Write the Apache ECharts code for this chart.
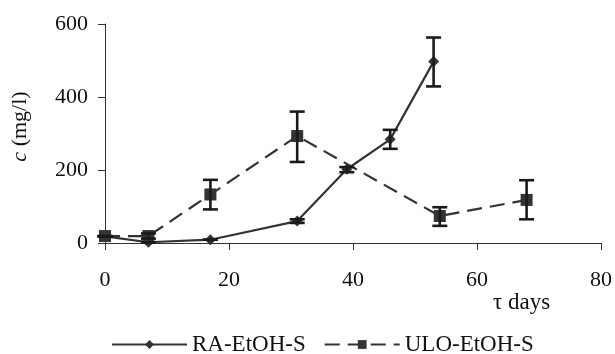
<!DOCTYPE html>
<html>
<head>
<meta charset="utf-8">
<script src="https://cdn.jsdelivr.net/npm/echarts@6/dist/echarts.min.js"></script>
<style>
  html, body { margin: 0; padding: 0; background: #fff; }
  #chart { width: 615px; height: 354px; }
</style>
</head>
<body>
<div id="chart"></div>
<script>
// RA-EtOH-S (diamonds, solid line)
var raDays = [0, 7, 17, 31, 39, 46, 53];
var raValues = [18, 2, 9, 60, 202, 284, 497];
var raLow = [18, 2, 9, 55, 194, 258, 429];
var raHigh = [18, 2, 9, 65, 208, 310, 563];

// ULO-EtOH-S (squares, dashed line)
var uloDays = [0, 7, 17, 31, 54, 68];
var uloValues = [19, 19, 133, 293, 74, 118];
var uloLow = [19, 12, 92, 222, 47, 65];
var uloHigh = [19, 26, 173, 360, 98, 172];

var xTicks = [0, 20, 40, 60, 80];
var yTicks = [0, 200, 400, 600];

var font = "Liberation Serif";
var fs = 22;
var ink = "#333333";

function pairs(xs, ys) {
  return xs.map(function (x, i) { return [x, ys[i]]; });
}

function errRows(xs, lo, hi) {
  return xs.map(function (x, i) { return [x, lo[i], hi[i]]; });
}

// vertical error bar with caps, drawn through the axis scales
function errorBars(params, api) {
  var top = api.coord([api.value(0), api.value(2)]);
  var bot = api.coord([api.value(0), api.value(1)]);
  var half = 7.5;
  var style = { stroke: "#1a1a1a", lineWidth: 2.6, fill: null };
  return {
    type: "group",
    children: [
      { type: "line", shape: { x1: top[0], y1: top[1], x2: bot[0], y2: bot[1] }, style: style },
      { type: "line", shape: { x1: top[0] - half, y1: top[1], x2: top[0] + half, y2: top[1] }, style: style },
      { type: "line", shape: { x1: bot[0] - half, y1: bot[1], x2: bot[0] + half, y2: bot[1] }, style: style }
    ]
  };
}

var chart = echarts.init(document.getElementById("chart"));

var option = {
  animation: false,
  textStyle: { fontFamily: font },
  grid: { left: 105, right: 13, top: 24, bottom: 111 },
  legend: {
    data: ["RA-EtOH-S", "ULO-EtOH-S"],
    top: 328,
    left: 106,
    itemWidth: 75,
    itemHeight: 11,
    itemGap: 18,
    textStyle: { fontFamily: font, fontSize: 23, color: "#111" }
  },
  graphic: [
    {
      type: "text",
      left: 493,
      top: 291,
      style: { text: "τ days", font: "23px " + font, fill: "#111" }
    }
  ],
  xAxis: {
    type: "value",
    min: xTicks[0],
    max: xTicks[xTicks.length - 1],
    interval: 20,
    axisLine: { lineStyle: { color: ink, width: 1 } },
    axisTick: { show: true, length: 7, lineStyle: { color: ink } },
    axisLabel: { fontFamily: font, fontSize: fs, color: "#111", margin: 26 },
    splitLine: { show: false }
  },
  yAxis: {
    type: "value",
    min: yTicks[0],
    max: yTicks[yTicks.length - 1],
    interval: 200,
    name: "{i|c} (mg/l)",
    nameLocation: "middle",
    nameRotate: 90,
    nameGap: 74,
    nameTextStyle: {
      fontFamily: font,
      fontSize: fs,
      color: "#111",
      padding: [0, 0, 0, 14],
      rich: {
        i: { fontFamily: font, fontSize: fs, fontStyle: "italic", color: "#111" }
      }
    },
    axisLine: { show: true, lineStyle: { color: ink, width: 1 } },
    axisTick: { show: true, length: 7, lineStyle: { color: ink } },
    axisLabel: { fontFamily: font, fontSize: fs, color: "#111", margin: 17 },
    splitLine: { show: false }
  },
  series: [
    {
      name: "RA-EtOH-S",
      type: "line",
      data: pairs(raDays, raValues),
      symbol: "diamond",
      symbolSize: 11,
      lineStyle: { color: ink, width: 2.2 },
      itemStyle: { color: ink },
      z: 3
    },
    {
      name: "ULO-EtOH-S",
      type: "line",
      data: pairs(uloDays, uloValues),
      symbol: "rect",
      symbolSize: 12,
      lineStyle: { color: ink, width: 2.2, type: [15, 8] },
      itemStyle: { color: ink },
      z: 3
    },
    {
      name: "raErr",
      type: "custom",
      renderItem: errorBars,
      data: errRows(raDays, raLow, raHigh),
      encode: { x: 0, y: [1, 2] },
      z: 4
    },
    {
      name: "uloErr",
      type: "custom",
      renderItem: errorBars,
      data: errRows(uloDays, uloLow, uloHigh),
      encode: { x: 0, y: [1, 2] },
      z: 4
    }
  ]
};

chart.setOption(option);
</script>
</body>
</html>
